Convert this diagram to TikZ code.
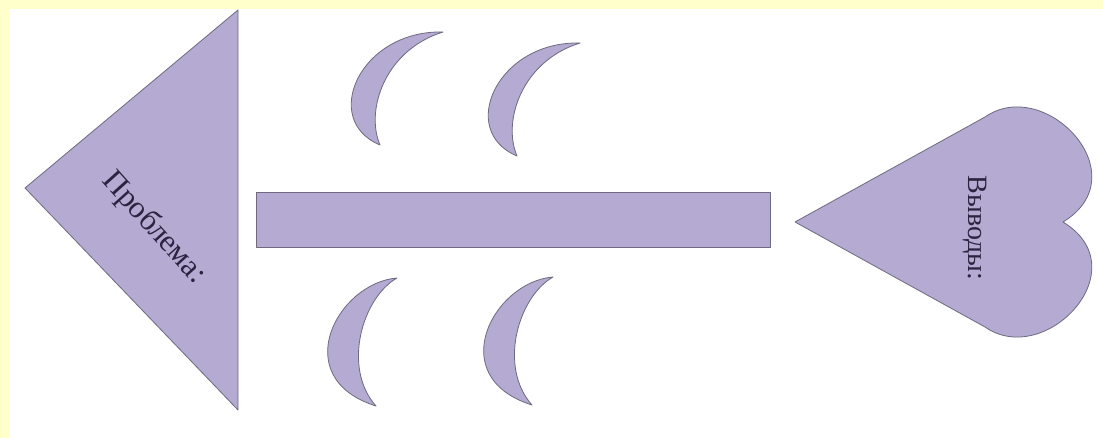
\documentclass[tikz,border=0pt]{standalone}
\usepackage{fontspec}
\setmainfont{Liberation Serif}
\usepackage{xcolor}
\definecolor{lilac}{HTML}{B4AAD2}
\definecolor{rim}{HTML}{6E6A80}
\definecolor{ink}{HTML}{2A2440}
\definecolor{pad}{HTML}{FFFFCC}

\begin{document}
\begin{tikzpicture}[
  x=1pt, y=-1pt,
  part/.style={fill=lilac, draw=rim, line width=0.8pt, line join=round},
  lab/.style={text=ink, inner sep=0pt},
  moonup/.pic={\path[part] (0,0) .. controls (-83,-2) and (-123,88) .. (-63,113)
      .. controls (-78,78) and (-58,18) .. (0,0) -- cycle;},
  moondown/.pic={\path[part] (0,0) .. controls (-60,5) and (-110,100) .. (-21,128)
      .. controls (-55,90) and (-35,20) .. (0,0) -- cycle;}]
\useasboundingbox (0,0) rectangle (1103,438);
\fill[pad] (0,0) rectangle (1103,438);
\fill[white] (9,9) rectangle (1103,438);
% head
\path[part] (238,10) -- (25,188) -- (238,410) -- cycle;
\node[lab, rotate=-48, font=\fontsize{31}{31}\selectfont] (problem) at (154,228) {Проблема:};
% spine
\path[part] (256,192) rectangle (770,247);
% bones
\pic at (443,32) {moonup};
\pic at (580,43) {moonup};
\pic at (397,278) {moondown};
\pic at (553,277) {moondown};
% tail
\path[part] (795,222) -- (985,117) .. controls (1045,75) and (1140,175) .. (1063,222)
  .. controls (1140,269) and (1045,369) .. (985,327) -- cycle;
\node[lab, rotate=-90, font=\fontsize{28}{28}\selectfont] (result) at (975,228) {Выводы:};
\end{tikzpicture}
\end{document}
